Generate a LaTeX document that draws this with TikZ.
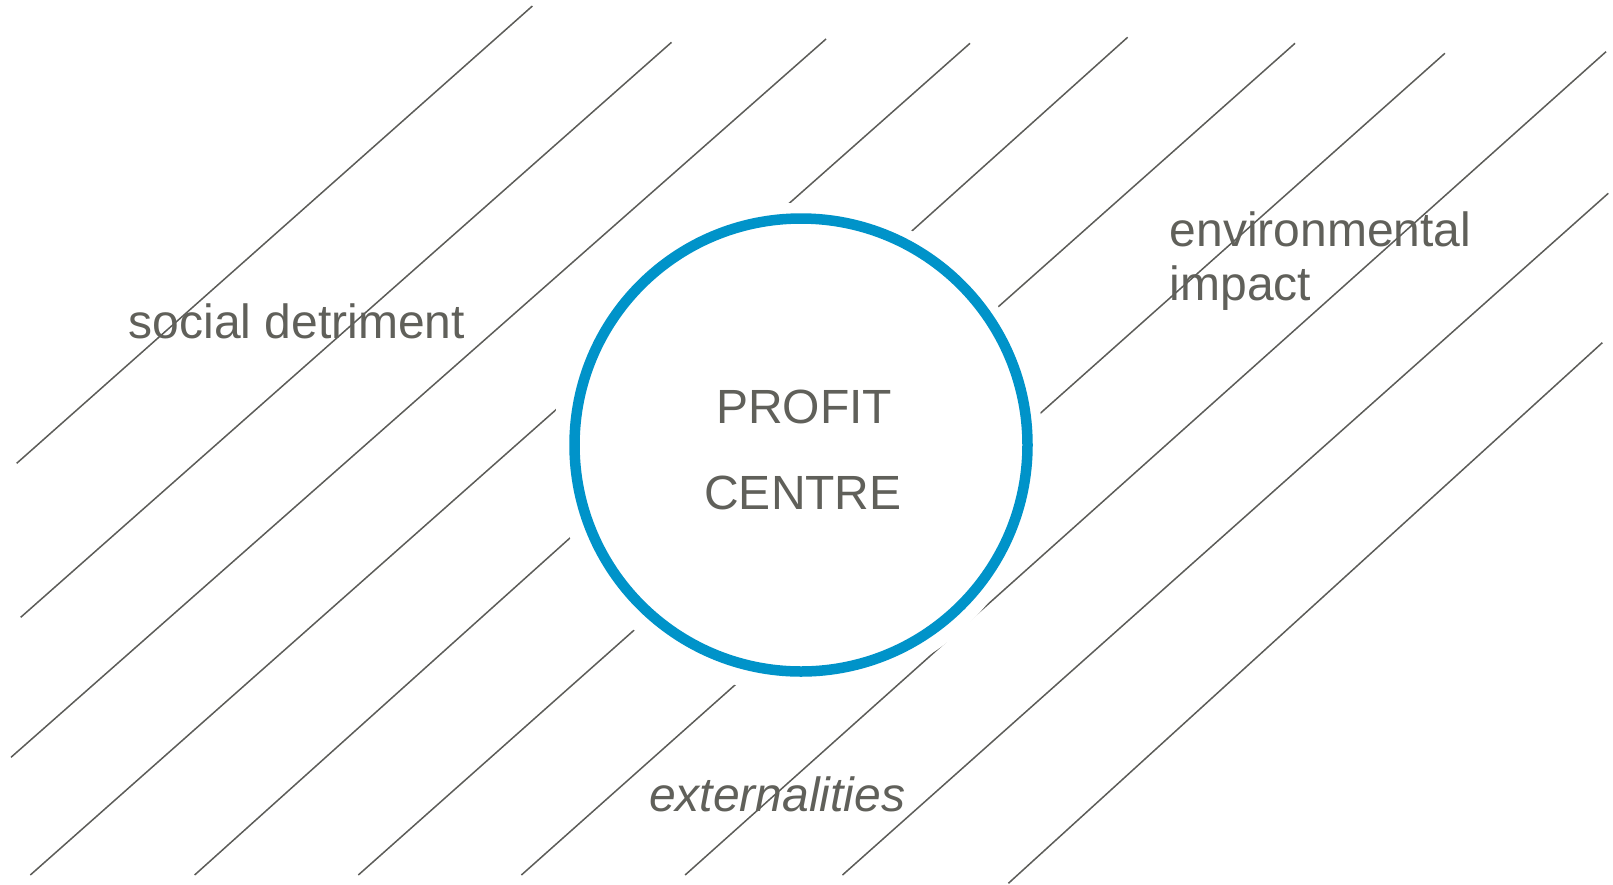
\documentclass[tikz,border=0pt]{standalone}
\usepackage{fontspec}
\setmainfont{Liberation Sans}
\definecolor{hatch}{RGB}{92,92,88}
\definecolor{txt}{RGB}{96,96,90}
\definecolor{ringblue}{RGB}{0,147,201}
\tikzset{
  hatchline/.style={draw=hatch, line width=1.5pt},
  label/.style={text=txt, inner sep=0pt, font=\fontsize{48}{58}\selectfont},
}
\begin{document}
\begin{tikzpicture}[x=1pt,y=-1pt]
\useasboundingbox (0,0) rectangle (1613,884);
% hatching
\draw[hatchline] (532.4,6) -- (16.7,463.3);
\draw[hatchline] (671.5,42.3) -- (20.7,617.3);
\draw[hatchline] (826,39) -- (11,757.3);
\draw[hatchline] (970,43.3) -- (30.3,875);
\draw[hatchline] (1127.6,37.3) -- (194.6,875);
\draw[hatchline] (1295,43.3) -- (358.3,875);
\draw[hatchline] (1444.9,53.3) -- (521.4,875);
\draw[hatchline] (1606,51.7) -- (685.1,875);
\draw[hatchline] (1608.3,193.3) -- (842.5,875);
\draw[hatchline] (1602.3,342.7) -- (1008.4,883.3);
% white halo and ring
\fill[white] (798,448) circle (245);
\draw[ringblue, line width=10.5pt] (801,445) circle (226.5);
% texts
\node[label, anchor=base] (profit) at (804,423.3) {PROFIT};
\node[label, anchor=base] (centre) at (803,509.3) {CENTRE};
\node[label, anchor=base west] (social) at (128.6,338.5) {social detriment};
\node[label, anchor=base west] (env) at (1169.6,246) {environmental};
\node[label, anchor=base west] (impact) at (1169.6,300) {impact};
\node[label, anchor=base west, font=\fontsize{48}{58}\selectfont\itshape] (ext) at (649,811) {externalities};
\end{tikzpicture}
\end{document}
